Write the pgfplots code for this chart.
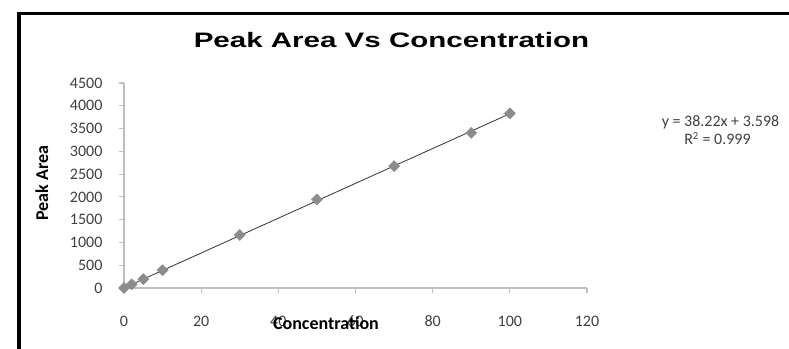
\documentclass[border=0pt]{standalone}
\usepackage{fontspec}
\setmainfont{Carlito}
\newfontfamily\titlefont[FakeStretch=1.41]{Liberation Sans}
\usepackage{pgfplots}
\pgfplotsset{compat=1.18}
\definecolor{markgray}{HTML}{8C8C8C}
\definecolor{axgray}{HTML}{BFBFBF}
\definecolor{ticktext}{HTML}{404040}
\begin{document}
\begin{tikzpicture}
\useasboundingbox (0pt,0pt) rectangle (591.75pt,261.75pt);
\fill[white] (0pt,0pt) rectangle (591.75pt,261.75pt);
\draw[line width=3pt] (14pt,0pt) -- (14pt,252.3pt);
\draw[line width=2.25pt] (12.5pt,251.25pt) -- (591.75pt,251.25pt);
\begin{axis}[
  at={(93pt,45.75pt)}, anchor=south west,
  scale only axis, width=347.25pt, height=153.75pt,
  xmin=0, xmax=120, ymin=0, ymax=4500,
  xtick={0,20,...,120}, ytick={0,500,...,4500},
  axis x line=bottom, axis y line=left,
  axis line style={-, draw=axgray, line width=0.8pt},
  tick style={draw=axgray, line width=0.8pt},
  tick align=outside, major tick length=4pt,
  /pgf/number format/assume math mode=true,
  /pgf/number format/1000 sep={},
  ticklabel style={font=\fontsize{12}{14}\selectfont, text=ticktext, inner sep=0pt},
  xticklabel style={anchor=base, yshift=-24.75pt},
  yticklabel style={anchor=east, xshift=-12pt},
  clip=false,
]
\addplot[only marks, mark=square*, mark size=2.9pt,
  mark options={rotate=45, fill=markgray, draw=markgray}]
  coordinates {(0,0) (2,80) (5,195) (10,390) (30,1163) (50,1945) (70,2675) (90,3405) (100,3832)};
\addplot[black!80, line width=0.6pt] coordinates {(0,3.598) (100,3825.6)};
\end{axis}
\node[inner sep=0pt] at (293.6pt,231.4pt) {\titlefont\bfseries\fontsize{15.7}{18}\selectfont Peak Area Vs Concentration};
\node[inner sep=0pt, rotate=90] at (31.5pt,124.5pt) {\bfseries\fontsize{13.5}{16}\selectfont Peak Area};
\node[inner sep=0pt, anchor=base] at (244.5pt,14.25pt) {\bfseries\fontsize{13.5}{16}\selectfont Concentration};
\node[inner sep=0pt, anchor=base, text=ticktext] at (540.4pt,166.5pt) {\fontsize{12}{14}\selectfont y = 38.22x + 3.598};
\node[inner sep=0pt, anchor=base, text=ticktext] at (538.1pt,153pt) {\fontsize{12}{14}\selectfont R\textsuperscript{2} = 0.999};
\end{tikzpicture}
\end{document}
